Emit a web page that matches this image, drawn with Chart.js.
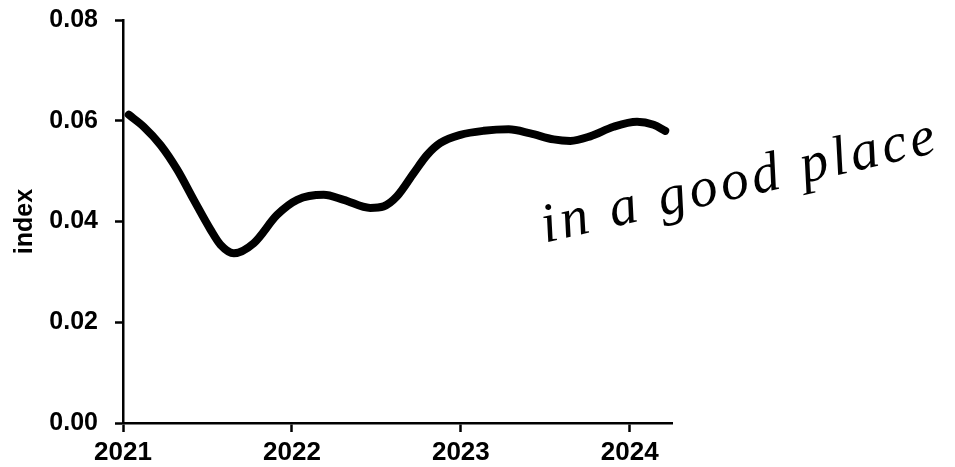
<!DOCTYPE html>
<html>
<head>
<meta charset="utf-8">
<script src="https://cdn.jsdelivr.net/npm/chart.js@4"></script>
<style>
  html, body { margin: 0; padding: 0; background: #fff; }
  #wrap { width: 955px; height: 467px; position: relative; }
</style>
</head>
<body>
<div id="wrap"><canvas id="c" width="955" height="467"></canvas></div>
<script>
// ---- data ----
const years = [2021.034, 2021.123, 2021.222, 2021.321, 2021.419, 2021.518, 2021.577, 2021.656,
  2021.774, 2021.912, 2022.031, 2022.188, 2022.307, 2022.464, 2022.543, 2022.622, 2022.721,
  2022.8, 2022.879, 2022.997, 2023.135, 2023.283, 2023.411, 2023.549, 2023.648, 2023.766,
  2023.904, 2024.043, 2024.141, 2024.21];
const indexValues = [0.0612, 0.0588, 0.0552, 0.0503, 0.0443, 0.0384, 0.0354, 0.0337,
  0.0357, 0.0413, 0.0443, 0.0453, 0.0443, 0.0427, 0.0430, 0.0450, 0.0496,
  0.0532, 0.0556, 0.0572, 0.0580, 0.0583, 0.0575, 0.0563, 0.0560, 0.0569,
  0.0588, 0.0598, 0.0592, 0.0580];
const xTickValues = [2021, 2022, 2023, 2024];
const yTickValues = [0.00, 0.02, 0.04, 0.06, 0.08];
const yAxisTitle = 'index';
const annotationText = 'in a good place';
const annotationAnchor = [2023.5, 0.0358]; // start of the note, in data units

const points = years.map((x, i) => ({ x: x, y: indexValues[i] }));

const noteFont = 'italic 56px "Liberation Serif", serif';

const annotationPlugin = {
  id: 'note',
  afterDraw(chart) {
    const { ctx, scales } = chart;
    const px = scales.x.getPixelForValue(annotationAnchor[0]);
    const py = scales.y.getPixelForValue(annotationAnchor[1]);
    ctx.save();
    ctx.translate(px, py);
    ctx.rotate(-13 * Math.PI / 180);
    ctx.font = noteFont;
    ctx.fillStyle = '#000';
    ctx.textBaseline = 'alphabetic';
    ctx.textAlign = 'left';
    ctx.letterSpacing = '4px';
    ctx.fillText(annotationText, 0, 0);
    ctx.restore();
  }
};

new Chart(document.getElementById('c'), {
  type: 'line',
  data: {
    datasets: [{
      data: points,
      borderColor: '#000',
      borderWidth: 8,
      borderCapStyle: 'round',
      borderJoinStyle: 'round',
      pointRadius: 0,
      tension: 0.4,
      cubicInterpolationMode: 'monotone',
      fill: false
    }]
  },
  options: {
    responsive: false,
    animation: false,
    events: [],
    layout: { padding: { left: 0, top: 20, right: 283, bottom: 0 } },
    plugins: { legend: { display: false }, tooltip: { enabled: false } },
    scales: {
      x: {
        type: 'linear',
        min: 2021,
        max: 2024.25,
        afterBuildTicks(scale) { scale.ticks = xTickValues.map(v => ({ value: v })); },
        afterFit(scale) { scale.height = 44; scale.paddingLeft = 0; scale.paddingRight = 0; },
        border: { display: true, color: '#000', width: 2.5 },
        grid: { drawOnChartArea: false, drawTicks: true, tickLength: 9, tickWidth: 2.5, tickColor: '#000' },
        ticks: {
          color: '#000',
          padding: 5,
          maxRotation: 0,
          autoSkip: false,
          font: { family: '"Liberation Sans", Arial, sans-serif', size: 26, weight: 'bold' },
          callback: v => String(v)
        }
      },
      y: {
        min: 0,
        max: 0.08,
        afterBuildTicks(scale) { scale.ticks = yTickValues.map(v => ({ value: v })); },
        afterFit(scale) { scale.width = 123; scale.paddingTop = 0; scale.paddingBottom = 0; },
        border: { display: true, color: '#000', width: 2.5 },
        grid: { drawOnChartArea: false, drawTicks: true, tickLength: 8, tickWidth: 2.5, tickColor: '#000' },
        title: {
          display: true,
          text: yAxisTitle,
          color: '#000',
          padding: { top: 10, bottom: 0 },
          font: { family: '"Liberation Sans", Arial, sans-serif', size: 25, weight: 'bold' }
        },
        ticks: {
          color: '#000',
          padding: 17,
          font: { family: '"Liberation Sans", Arial, sans-serif', size: 25, weight: 'bold' },
          callback: v => v.toFixed(2)
        }
      }
    }
  },
  plugins: [annotationPlugin]
});
</script>
</body>
</html>
